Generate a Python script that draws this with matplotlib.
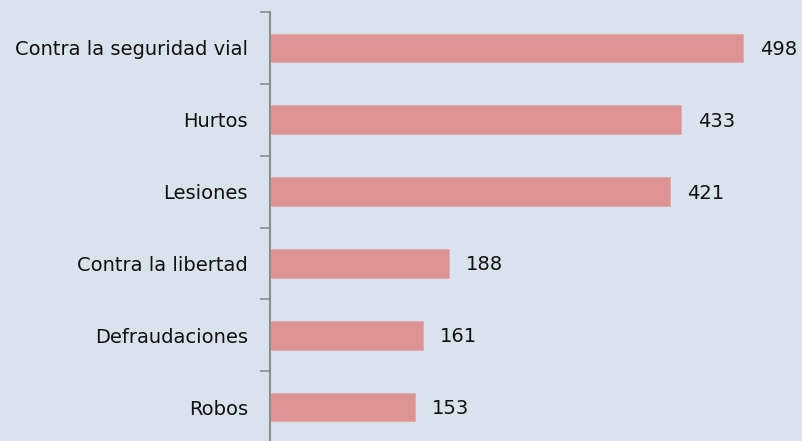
import matplotlib
matplotlib.use("Agg")
import matplotlib.pyplot as plt
import numpy as np

categories = ["Contra la seguridad vial", "Hurtos", "Lesiones",
              "Contra la libertad", "Defraudaciones", "Robos"]
values = [498, 433, 421, 188, 161, 153]

BG = "#D8E3EE"
BAR = "#DC9594"
AXIS = "#8C8C8C"

plt.rcParams["font.family"] = ["DejaVu Sans"]

fig = plt.figure(figsize=(8.02, 4.41), dpi=100, facecolor=BG)
ax = fig.add_axes([270 / 802, -2 / 441, 532 / 802, 431 / 441])
ax.set_facecolor(BG)

y = np.arange(len(categories))
bars = ax.barh(y, values, height=0.4, color=BAR, edgecolor="#E3A9A8", linewidth=0.6)

ax.set_xlim(0, 532 / 0.9498)
ax.set_ylim(len(categories) - 0.5, -0.5)

for b, v in zip(bars, values):
    ax.text(v + 17 / 0.9498, b.get_y() + b.get_height() / 2 + 0.02, str(v),
            va="center", ha="left", fontsize=14, color="#111111")

ax.set_yticks(y)
ax.set_yticklabels(categories, fontsize=14, color="#111111")
ax.tick_params(axis="y", which="major", length=0, pad=16)
ax.set_yticks(np.arange(-0.5, len(categories), 1), minor=True)
ax.tick_params(axis="y", which="minor", length=7, width=1.2, color=AXIS)
ax.set_xticks([])

for s in ["top", "right", "bottom"]:
    ax.spines[s].set_visible(False)
ax.spines["left"].set_color(AXIS)
ax.spines["left"].set_linewidth(1.5)

fig.savefig("out.png", dpi=100, facecolor=BG)
